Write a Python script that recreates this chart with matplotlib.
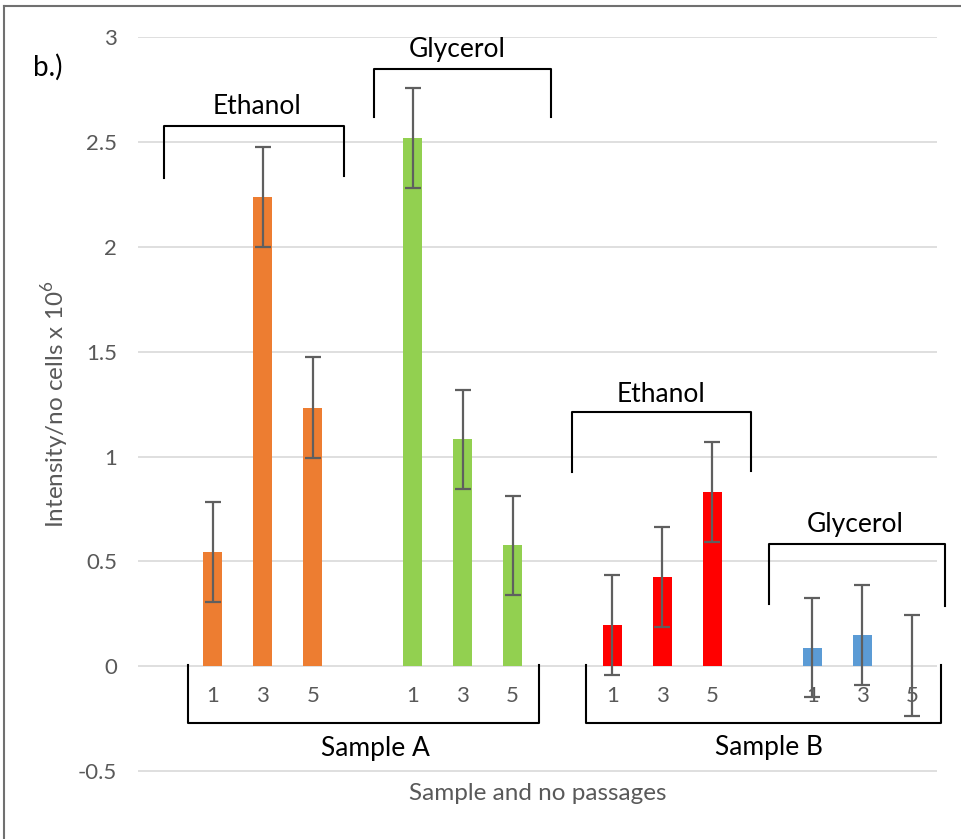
import matplotlib
matplotlib.use("Agg")
import matplotlib.pyplot as plt
from matplotlib.lines import Line2D

plt.rcParams['font.family'] = ['Lato', 'DejaVu Sans']
plt.rcParams['mathtext.fontset'] = 'custom'
plt.rcParams['mathtext.rm'] = 'Lato'

# data
passages = ['1', '3', '5']
ethanol_a = [0.545, 2.238, 1.233]
ethanol_a_err = [0.237, 0.237, 0.240]
glycerol_a = [2.521, 1.083, 0.576]
glycerol_a_err = [0.239, 0.237, 0.237]
ethanol_b = [0.197, 0.424, 0.832]
ethanol_b_err = [0.238, 0.238, 0.237]
glycerol_b = [0.089, 0.149, 0.003]
glycerol_b_err = [0.237, 0.240, 0.242]

series = [
    (ethanol_a, ethanol_a_err, '#ED7D31'),
    (glycerol_a, glycerol_a_err, '#92D050'),
    (ethanol_b, ethanol_b_err, '#FF0000'),
    (glycerol_b, glycerol_b_err, '#5B9BD5'),
]

GRAY = '#595959'

fig = plt.figure(figsize=(9.61, 8.39), dpi=100)
ax = fig.add_axes([138 / 961, (839 - 771.7) / 839, 799 / 961, 735 / 839])

# every group takes 4 category slots: one empty slot then passages 1, 3, 5
tick_pos = []
tick_lab = []
for i, (vals, errs, col) in enumerate(series):
    xs = [4 * i + 1 + k for k in range(len(vals))]
    ax.bar(xs, vals, width=0.38, color=col, zorder=2)
    ax.errorbar(xs, vals, yerr=errs, fmt='none', ecolor='#5f5f5f',
                elinewidth=1.6, capsize=5.5, capthick=1.6, zorder=3)
    tick_pos += [4 * i] + xs
    tick_lab += [''] + passages

ax.set_xlim(-0.5, 15.5)
ax.set_ylim(-0.503, 3.003)
ax.set_yticks([-0.5, 0, 0.5, 1, 1.5, 2, 2.5, 3])
ax.set_yticklabels(['-0.5', '0', '0.5', '1', '1.5', '2', '2.5', '3'])
ax.set_xticks(tick_pos)
ax.set_xticklabels(tick_lab)

for s in ax.spines.values():
    s.set_visible(False)
ax.spines['bottom'].set_position(('data', 0))
ax.tick_params(axis='y', length=0, pad=15, labelsize=16, labelcolor=GRAY)
ax.tick_params(axis='x', length=0, pad=14, labelsize=16, labelcolor=GRAY)
ax.yaxis.grid(True, color='#d9d9d9', linewidth=1.2)
ax.set_axisbelow(True)

ax.set_ylabel('Intensity/no cells x 10$^{6}$', fontsize=17.5, color=GRAY, va='center')
ax.yaxis.set_label_coords(-0.104, 0.5)
fig.text(537.5 / 961, 1 - 793 / 839, 'Sample and no passages', fontsize=17.5,
         color=GRAY, ha='center', va='center')


def bracket_top(x0, x1, ytop, yl, yr, label, tx, ty):
    ax.plot([x0, x0, x1, x1], [yl, ytop, ytop, yr], color='black', lw=1.5,
            clip_on=False, zorder=4)
    ax.text(tx, ty, label, fontsize=19, ha='center', va='center', zorder=4)


def bracket_bottom(x0, x1, ytop, ybot, label, tx, ty):
    ax.plot([x0, x0, x1, x1], [ytop, ybot, ybot, ytop], color='black', lw=1.5,
            clip_on=False, zorder=4)
    ax.text(tx, ty, label, fontsize=19, ha='center', va='center', zorder=4)


bracket_top(0.02, 3.62, 2.575, 2.327, 2.337, 'Ethanol', 1.89, 2.67)
bracket_top(4.22, 7.78, 2.848, 2.619, 2.619, 'Glycerol', 5.90, 2.94)
bracket_top(8.19, 11.78, 1.211, 0.927, 0.932, 'Ethanol', 9.97, 1.294)
bracket_top(12.14, 15.67, 0.584, 0.298, 0.289, 'Glycerol', 13.87, 0.675)
bracket_bottom(0.506, 7.54, 0.008, -0.273, 'Sample A', 4.25, -0.392)
bracket_bottom(8.47, 15.58, 0.008, -0.273, 'Sample B', 12.13, -0.389)

fig.text(33 / 961, 1 - 67 / 839, 'b.)', fontsize=20, ha='left', va='center')

# frame edges visible in the original crop
fig.add_artist(Line2D([4 / 961, 4 / 961], [0, 1 - 6 / 839], color='#707070', lw=1.5))
fig.add_artist(Line2D([4 / 961, 1], [1 - 6 / 839, 1 - 6 / 839], color='#707070', lw=1.5))

fig.savefig('out.png', dpi=100)
